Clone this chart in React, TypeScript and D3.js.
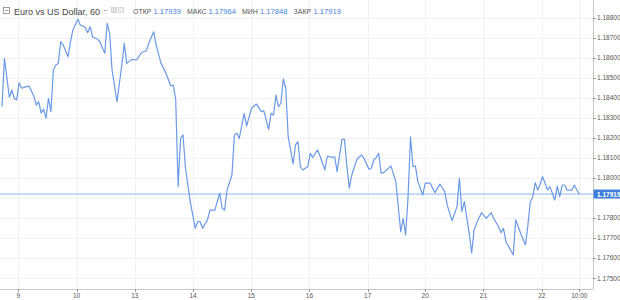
import React from "react";
import * as d3 from "d3";

const hours = [
  0, 1, 3, 4, 5, 6, 7, 8, 10, 11, 13, 14, 15, 16, 17, 18, 19, 20, 21, 22,
  23, 24, 25, 27, 28, 29, 31, 32, 34, 35, 36, 37, 39, 40, 42, 43, 44, 45, 47, 49,
  50, 51, 53, 55, 57, 59, 60, 62, 63, 65, 67, 69, 70, 71, 72, 73, 74, 75, 77, 79,
  80, 81, 82, 84, 85, 87, 89, 90, 91, 92, 94, 95, 96, 97, 99, 100, 102, 104, 106, 107,
  109, 110, 111, 112, 113, 114, 115, 116, 117, 119, 120, 121, 122, 123, 125, 126, 127, 129, 130, 132,
  133, 135, 136, 137, 139, 140, 141, 142, 143, 145, 146, 147, 148, 150, 151, 152, 153, 154, 155, 156,
  159, 161, 162, 163, 164, 165, 166, 167, 168, 169, 170, 172, 173, 175, 177, 179, 181, 182, 184, 186,
  187, 188, 189, 191, 192, 193, 194, 196, 198, 200, 201, 203, 204, 205, 206, 209, 210, 212, 214, 215,
  216, 217, 218, 219, 220, 221, 222, 223, 224, 225, 226, 227, 228, 229, 230, 231, 233, 234, 235, 236,
];

const prices = [
  1.18355, 1.18596, 1.18402, 1.18438, 1.18397, 1.18388, 1.18475, 1.18447, 1.18455, 1.18458, 1.18408, 1.18363, 1.1838, 1.18323, 1.18343, 1.18297, 1.18397, 1.1833, 1.18538, 1.18563,
  1.18571, 1.18679, 1.18663, 1.18604, 1.18679, 1.18738, 1.18791, 1.18763, 1.18751, 1.18724, 1.18754, 1.18704, 1.18691, 1.18679, 1.18621, 1.18771, 1.18721, 1.18538, 1.1838, 1.18563,
  1.18671, 1.18571, 1.18591, 1.18588, 1.18624, 1.18634, 1.18671, 1.18729, 1.18663, 1.18571, 1.18523, 1.18458, 1.18463, 1.18393, 1.17956, 1.18197, 1.18214, 1.18049, 1.17877, 1.17748,
  1.17781, 1.17781, 1.17748, 1.1779, 1.17839, 1.17839, 1.17923, 1.17848, 1.17839, 1.17939, 1.18014, 1.18214, 1.18222, 1.18197, 1.18322, 1.18259, 1.18347, 1.18368, 1.1833, 1.18335,
  1.18242, 1.18322, 1.18313, 1.18413, 1.18355, 1.18372, 1.18492, 1.18447, 1.18205, 1.18069, 1.18164, 1.1818, 1.18056, 1.18039, 1.18056, 1.18122, 1.18102, 1.18139, 1.18109, 1.18039,
  1.18109, 1.18102, 1.18105, 1.18031, 1.18192, 1.18192, 1.18056, 1.17948, 1.18014, 1.18089, 1.18104, 1.18114, 1.18097, 1.18043, 1.18048, 1.18089, 1.18102, 1.18122, 1.18023, 1.18026,
  1.18059, 1.17981, 1.17856, 1.17731, 1.17798, 1.17715, 1.17906, 1.18205, 1.18056, 1.18059, 1.17981, 1.17914, 1.17973, 1.17973, 1.17926, 1.17969, 1.17931, 1.17864, 1.17786, 1.17856,
  1.17998, 1.17831, 1.17881, 1.17723, 1.17625, 1.1774, 1.17773, 1.17826, 1.17798, 1.17826, 1.17798, 1.17756, 1.17726, 1.17748, 1.17681, 1.17615, 1.1779, 1.17723, 1.17665, 1.17765,
  1.17881, 1.17906, 1.17976, 1.17939, 1.17969, 1.18006, 1.17973, 1.17939, 1.17956, 1.17923, 1.17889, 1.17959, 1.17906, 1.17964, 1.17964, 1.17939, 1.17939, 1.17964, 1.17939, 1.17919,
];

const xTickHours = [6.7, 30.5, 54.3, 78.1, 101.9, 125.7, 149.5, 173, 196.8, 220.7, 236];
const xTickLabels = ["9", "10", "13", "14", "15", "16", "17", "20", "21", "22", "10:00"];

const priceTicks = [1.175, 1.176, 1.177, 1.178, 1.179, 1.18, 1.181, 1.182, 1.183, 1.184, 1.185, 1.186, 1.187, 1.188];

const lastPrice = 1.17919;
const symbolTitle = "Euro vs US Dollar, 60";
const ohlcLabels = ["ОТКР", "МАКС", "МИН", "ЗАКР"];
const ohlcValues = ["1.17939", "1.17964", "1.17848", "1.17919"];

const W = 620;
const H = 300;
const plotRight = 593;
const plotBottom = 289;

const FONT = "'Liberation Sans', Arial, sans-serif";

export default function App() {
  const x = d3.scaleLinear().domain([0, 236]).range([2, 579.3]);
  const y = d3.scaleLinear().domain([1.175, 1.188]).range([278, 17.5]);

  const pts: [number, number][] = hours.map((h, i) => [h, prices[i]]);
  const line = d3
    .line<[number, number]>()
    .x((d) => x(d[0]))
    .y((d) => y(d[1]));

  const lastY = y(lastPrice);
  const labelXs = [133, 187, 242, 293.5];
  const valueXs = [153.5, 208.5, 260, 313.5];

  return (
    <svg
      width={W}
      height={H}
      style={{ position: "absolute", left: 0, top: 0, background: "#fff" }}
      fontFamily={FONT}
    >
      <rect x={0} y={0} width={W} height={H} fill="#ffffff" />
      {/* grid */}
      <g stroke="#eef1f5" strokeWidth={1}>
        {priceTicks.map((p) => (
          <line key={"h" + p} x1={0} x2={plotRight} y1={Math.round(y(p)) + 0.5} y2={Math.round(y(p)) + 0.5} />
        ))}
        {xTickHours.map((h) => (
          <line key={"v" + h} x1={Math.round(x(h)) + 0.5} x2={Math.round(x(h)) + 0.5} y1={0} y2={plotBottom} />
        ))}
      </g>

      {/* last price line */}
      <line x1={0} x2={plotRight} y1={lastY} y2={lastY} stroke="#8fb5ee" strokeWidth={1} />

      {/* series */}
      <path d={line(pts) || ""} fill="none" stroke="#6a9ae6" strokeWidth={1.2} strokeLinejoin="round" />

      {/* axes */}
      <line x1={plotRight + 0.5} x2={plotRight + 0.5} y1={0} y2={plotBottom} stroke="#c8c8c8" />
      <line x1={0} x2={plotRight} y1={plotBottom + 0.5} y2={plotBottom + 0.5} stroke="#c8c8c8" />

      {/* price axis labels (hidden where the last-price label sits) */}
      <g fontSize={6.5} fill="#555">
        {priceTicks
          .filter((p) => Math.abs(y(p) - lastY) > 9)
          .map((p) => (
            <g key={"pt" + p}>
              <line x1={plotRight} x2={plotRight + 3} y1={Math.round(y(p)) + 0.5} y2={Math.round(y(p)) + 0.5} stroke="#999" />
              <text x={597} y={y(p)} dominantBaseline="central">
                {p.toFixed(5)}
              </text>
            </g>
          ))}
      </g>
      <rect x={plotRight + 0.5} y={lastY - 4.5} width={W - plotRight} height={9} fill="#3f7fdc" />
      <text x={597} y={lastY} dominantBaseline="central" fontSize={6.5} fill="#fff" fontWeight="bold">
        {lastPrice.toFixed(5)}
      </text>

      {/* time axis labels */}
      <g fontSize={6.5} fill="#555" textAnchor="middle">
        {xTickHours.map((h, i) => (
          <g key={"xt" + h}>
            <line x1={Math.round(x(h)) + 0.5} x2={Math.round(x(h)) + 0.5} y1={plotBottom} y2={plotBottom + 3} stroke="#999" />
            <text x={x(h)} y={297.5}>
              {xTickLabels[i]}
            </text>
          </g>
        ))}
      </g>

      {/* header */}
      <g>
        <rect x={3.5} y={7.5} width={6} height={6} fill="none" stroke="#888" strokeWidth={0.8} />
        <line x1={5} x2={8} y1={10.5} y2={10.5} stroke="#888" strokeWidth={0.8} />
        <text x={14} y={14.5} fontSize={9} fill="#444">
          {symbolTitle}
        </text>
        <line x1={104} x2={107} y1={10.5} y2={10.5} stroke="#999" strokeWidth={0.8} />
        <rect x={111.5} y={7.5} width={5} height={5} fill="#e0e0e0" stroke="#c4c4c4" strokeWidth={0.6} />
        <rect x={118.5} y={7.5} width={5} height={5} fill="#f0f0f0" stroke="#c4c4c4" strokeWidth={0.6} />
        {ohlcLabels.map((l, i) => (
          <g key={l}>
            <text x={labelXs[i]} y={14} fontSize={7} fill="#555">
              {l}
            </text>
            <text x={valueXs[i]} y={14} fontSize={7.6} fill="#3f7fdc">
              {ohlcValues[i]}
            </text>
          </g>
        ))}
      </g>
    </svg>
  );
}
